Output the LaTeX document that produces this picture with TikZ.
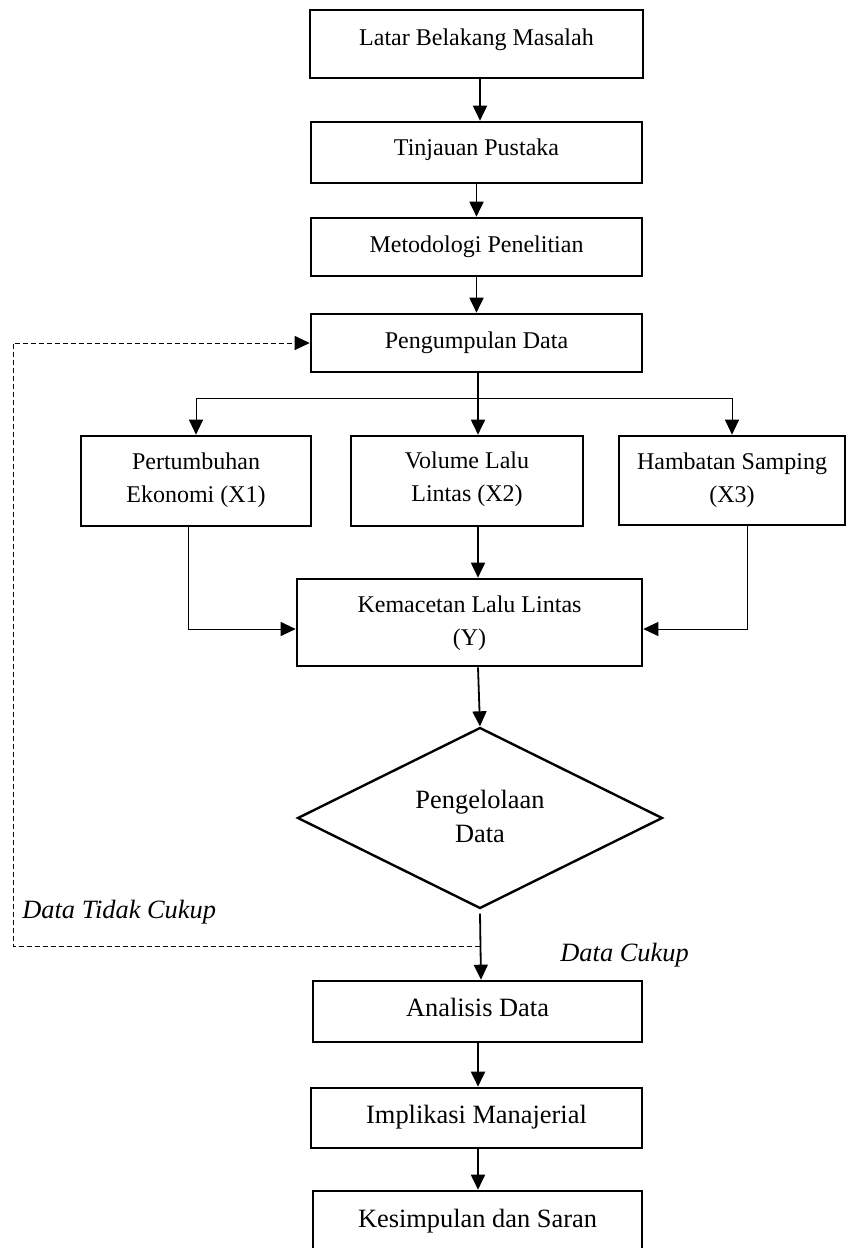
\documentclass[tikz,border=0pt]{standalone}
\usepackage{fontspec}
\setmainfont{Liberation Serif}
\usetikzlibrary{arrows.meta,shapes.geometric}
\newcommand\fsA{\fontsize{12pt}{16.75pt}\selectfont}
\newcommand\fsB{\fontsize{13.2pt}{17pt}\selectfont}
\newcommand\twol[2]{\begin{tabular}[t]{@{}c@{}}#1\\#2\end{tabular}}
\tikzset{
  box/.style={draw, line width=1.3pt, inner sep=0pt, font=\fsA},
  boxb/.style={box, font=\fsB},
  arr/.style={line width=0.9pt, -{Triangle[length=7.5pt,width=7pt]}},
  thinarr/.style={line width=0.5pt, -{Triangle[length=7.5pt,width=7pt]}},
  dasharr/.style={line width=0.5pt, dash pattern=on 2.4pt off 1.6pt, -{Triangle[length=7.5pt,width=7pt]}},
  lab/.style={inner sep=0pt, font=\fsB\itshape}
}
\begin{document}
\begin{tikzpicture}[x=0.5pt,y=-0.5pt]
\useasboundingbox (0,0) rectangle (846,1248);

\node[box, minimum width=166.5pt, text height=17.5pt, text depth=16.5pt] (b1) at (476.5,44) {Latar Belakang Masalah};
\node[box, minimum width=165.5pt, text height=16.5pt, text depth=14pt] (b2) at (476.5,152.5) {Tinjauan Pustaka};
\node[box, minimum width=165.5pt, text height=17pt, text depth=12pt] (b3) at (476.5,247) {Metodologi Penelitian};
\node[box, minimum width=165.5pt, text height=17pt, text depth=12pt] (b4) at (476.5,343) {Pengumpulan Data};

\node[box, minimum width=115pt, text height=16.5pt, text depth=28.5pt] (x1) at (196,481) {\twol{Pertumbuhan}{Ekonomi (X1)}};
\node[box, minimum width=116pt, text height=16pt, text depth=29pt] (x2) at (467,481) {\twol{Volume Lalu}{Lintas (X2)}};
\node[box, minimum width=113pt, text height=16.5pt, text depth=28pt] (x3) at (732,480.5) {\twol{Hambatan Samping}{(X3)}};

\node[box, minimum width=172.5pt, text height=16.5pt, text depth=27pt] (y) at (469.5,622.5) {\twol{Kemacetan Lalu Lintas}{(Y)}};

\node[draw, diamond, line width=1.2pt, inner sep=0pt, shape aspect=2,
      minimum width=182.5pt, minimum height=90.5pt,
      text height=6pt, text depth=16pt, font=\fsB] (d) at (480,818) {\twol{Pengelolaan}{Data}};

\node[boxb, minimum width=164.5pt, text height=17.5pt, text depth=13pt] (an) at (477.5,1011.5) {Analisis Data};
\node[boxb, minimum width=165.5pt, text height=17.5pt, text depth=12.5pt] (im) at (476.5,1118) {Implikasi Manajerial};
\node[boxb, minimum width=164.5pt, text height=18pt, text depth=16.5pt] (ks) at (477.5,1225.5) {Kesimpulan dan Saran};

\node[lab, anchor=base west] (ltc) at (22,918) {Data Tidak Cukup};
\node[lab, anchor=base west] (lc) at (560,961) {Data Cukup};

\coordinate (ax) at (478,0);
\coordinate (sp) at (478,398);
\coordinate (dj) at (480,946);
\coordinate (dl) at (13,946);

\draw[arr] ([xshift=1.75pt]b1.south) -- ([xshift=1.75pt]b2.north);
\draw[arr] (b2.south) -- (b3.north);
\draw[arr] (b3.south) -- (b4.north);
\draw[arr] (b4.south -| ax) -- (x2.north -| ax);
\draw[thinarr] (sp) -| (x1.north);
\draw[thinarr] (sp) -| (x3.north);
\draw[arr] (x2.south -| ax) -- (y.north -| ax);
\draw[thinarr] ([xshift=-4pt]x1.south) |- ([yshift=-3.25pt]y.west);
\draw[thinarr] ([xshift=7.5pt]x3.south) |- ([yshift=-3.25pt]y.east);
\draw[arr] (y.south -| ax) -- (d.north);
\draw[arr] ([yshift=-2pt]d.south) -- ([xshift=1.75pt]an.north);
\draw[dasharr] (dj) -- (dl) |- (b4.west);
\draw[arr] (an.south -| ax) -- (im.north -| ax);
\draw[arr] (im.south -| ax) -- (ks.north -| ax);
\end{tikzpicture}
\end{document}
